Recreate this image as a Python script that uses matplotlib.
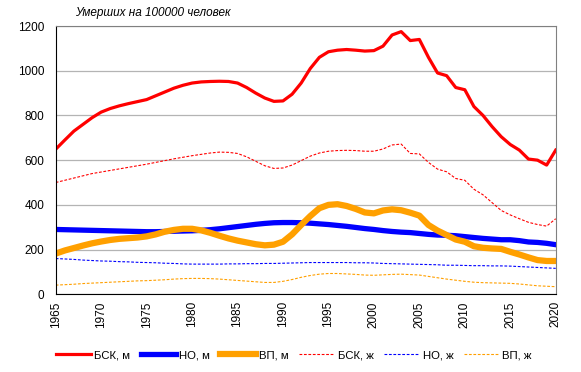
import matplotlib.pyplot as plt
import numpy as np

plt.rcParams['font.family'] = ['Liberation Sans', 'DejaVu Sans']

years = np.arange(1965, 2021)

# мужчины
bsk_m = [649, 690, 730, 760, 790, 815, 831, 843, 853, 862,
         871, 888, 905, 922, 935, 945, 950, 952, 953, 952,
         945, 925, 900, 878, 863, 865, 895, 945, 1010, 1060,
         1085, 1092, 1095, 1092, 1088, 1090, 1110, 1160, 1175, 1135,
         1140, 1060, 990, 978, 925, 915, 840, 800, 750, 705,
         670, 645, 605, 600, 578, 645]
no_m = [290, 289, 288, 287, 286, 285, 284, 283, 282, 281,
        280, 280, 281, 282, 283, 284, 286, 289, 293, 298,
        303, 308, 313, 317, 320, 321, 321, 320, 318, 315,
        312, 308, 304, 299, 294, 290, 285, 281, 278, 276,
        272, 268, 265, 264, 262, 258, 254, 250, 247, 244,
        244, 240, 234, 232, 228, 222]
vp_m = [182, 196, 207, 218, 228, 236, 243, 248, 251, 254,
        259, 268, 280, 288, 293, 293, 286, 275, 262, 250,
        240, 232, 224, 219, 222, 235, 268, 310, 350, 385,
        400, 403, 395, 382, 366, 362, 375, 380, 376, 365,
        352, 310, 285, 265, 245, 235, 215, 208, 205, 203,
        190, 178, 165, 153, 149, 149]

# женщины
bsk_f = [500, 510, 520, 530, 540, 547, 554, 561, 568, 575,
         582, 590, 598, 606, 613, 620, 626, 632, 636, 635,
         630, 615, 595, 575, 563, 565, 578, 598, 618, 632,
         640, 643, 644, 643, 640, 640, 650, 668, 672, 630,
         628, 590, 560, 548, 518, 510, 470, 445, 410, 375,
         355, 338, 322, 312, 305, 338]
no_f = [160, 158, 156, 153, 151, 149, 148, 146, 145, 143,
        142, 141, 139, 138, 136, 135, 135, 135, 135, 136,
        136, 137, 137, 138, 138, 139, 140, 141, 142, 142,
        142, 142, 142, 141, 141, 140, 138, 137, 136, 135,
        134, 133, 132, 130, 130, 129, 128, 128, 127, 127,
        126, 124, 122, 120, 118, 116]
vp_f = [41, 43, 45, 48, 50, 52, 54, 56, 58, 60,
        61, 63, 65, 68, 70, 71, 71, 70, 68, 65,
        62, 59, 56, 53, 53, 58, 66, 76, 84, 90,
        93, 93, 91, 89, 86, 85, 87, 89, 90, 88,
        86, 80, 74, 68, 63, 58, 54, 52, 51, 50,
        49, 46, 42, 38, 36, 34]

labels = ['БСК, м', 'НО, м', 'ВП, м', 'БСК, ж', 'НО, ж', 'ВП, ж']

dpi = 100
fig = plt.figure(dpi=dpi, figsize=(581 / dpi, 372 / dpi))
ax = fig.add_axes([0.0959, 0.2089, 0.8606, 0.7211])

ax.plot(years, bsk_m, color='#ff0000', lw=2.3, solid_joinstyle='round', label=labels[0])
ax.plot(years, no_m, color='#0000ff', lw=3.8, solid_joinstyle='round', label=labels[1])
ax.plot(years, vp_m, color='#ffa000', lw=4.5, solid_joinstyle='round', label=labels[2])
ax.plot(years, bsk_f, color='#ff0000', lw=0.8, ls=(0, (2.5, 1.5)), label=labels[3])
ax.plot(years, no_f, color='#0000ff', lw=0.8, ls=(0, (2.5, 1.5)), label=labels[4])
ax.plot(years, vp_f, color='#ffa000', lw=0.8, ls=(0, (2.5, 1.5)), label=labels[5])

ax.set_xlim(1965, 2020)
ax.set_ylim(0, 1200)
ax.set_xticks(np.arange(1965, 2021, 5))
ax.set_yticks(np.arange(0, 1201, 200))
ax.tick_params(axis='x', labelrotation=90, length=0, labelsize=8.5, pad=5)
ax.tick_params(axis='y', length=0, labelsize=8.5, pad=8)
ax.grid(axis='y', color='#b4b4b4', lw=0.9)
ax.set_axisbelow(True)
for s in ['top', 'right']:
    ax.spines[s].set_color('#808080')
for s in ['left', 'bottom']:
    ax.spines[s].set_color('black')

fig.text(0.129, 0.965, 'Умерших на 100000 человек', style='italic', fontsize=8.5,
         va='center', ha='left')

ax.legend(loc='center', bbox_to_anchor=(0.476, -0.228), ncol=6, frameon=False,
          fontsize=8.2, handlelength=3.1, columnspacing=0.9, handletextpad=0.3)

fig.savefig('out.png')
